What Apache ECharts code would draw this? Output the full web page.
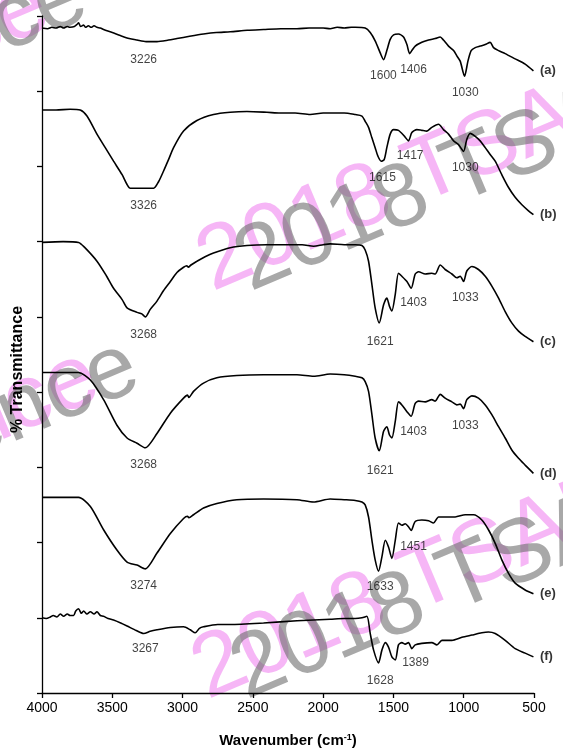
<!DOCTYPE html>
<html>
<head>
<meta charset="utf-8">
<script src="https://cdn.jsdelivr.net/npm/echarts@6/dist/echarts.min.js"></script>
<style>
html,body{margin:0;padding:0;background:#fff;}
#chart{width:563px;height:753px;}
</style>
</head>
<body>
<div id="chart"></div>
<script>
// ---- Data (wavenumber cm^-1, offset % transmittance in axis units) ----
const specA = [[4000,8.84],[3960,8.83],[3930,8.85],[3900,8.84],[3870,8.86],[3846,8.84],[3820,8.86],[3800,8.85],[3770,8.86],[3750,8.89],[3740,8.91],[3725,8.86],[3704,8.88],[3690,8.85],[3670,8.87],[3650,8.85],[3630,8.87],[3609,8.85],[3585,8.84],[3562,8.82],[3500,8.78],[3443,8.74],[3380,8.70],[3324,8.68],[3260,8.66],[3182,8.66],[3100,8.68],[3040,8.70],[2950,8.73],[2851,8.76],[2760,8.78],[2661,8.79],[2540,8.81],[2424,8.82],[2300,8.83],[2186,8.83],[2100,8.84],[2000,8.84],[1950,8.83],[1900,8.85],[1850,8.84],[1800,8.85],[1772,8.85],[1701,8.84],[1665,8.78],[1630,8.67],[1594,8.51],[1570,8.42],[1547,8.54],[1523,8.69],[1499,8.75],[1464,8.76],[1428,8.72],[1404,8.62],[1385,8.50],[1369,8.54],[1345,8.60],[1298,8.65],[1250,8.68],[1203,8.70],[1167,8.72],[1144,8.68],[1108,8.60],[1072,8.54],[1049,8.47],[1025,8.40],[994,8.20],[970,8.40],[947,8.54],[918,8.58],[883,8.60],[847,8.62],[812,8.65],[788,8.58],[752,8.54],[705,8.50],[634,8.43],[563,8.36],[504,8.27]];
const specB = [[4000,7.75],[3900,7.75],[3800,7.76],[3728,7.75],[3680,7.67],[3609,7.43],[3550,7.25],[3491,7.07],[3430,6.89],[3395,6.76],[3372,6.71],[3300,6.71],[3206,6.71],[3170,6.80],[3135,6.94],[3100,7.09],[3064,7.25],[2993,7.47],[2898,7.61],[2780,7.69],[2661,7.72],[2542,7.73],[2400,7.72],[2305,7.71],[2200,7.71],[2092,7.69],[2000,7.71],[1950,7.71],[1850,7.71],[1772,7.69],[1724,7.67],[1701,7.60],[1677,7.52],[1653,7.38],[1630,7.25],[1611,7.14],[1587,7.07],[1566,7.09],[1547,7.25],[1523,7.43],[1499,7.49],[1464,7.48],[1421,7.40],[1393,7.34],[1369,7.45],[1333,7.49],[1298,7.48],[1262,7.47],[1227,7.52],[1179,7.56],[1144,7.49],[1108,7.43],[1072,7.34],[1037,7.29],[1001,7.20],[978,7.36],[954,7.44],[918,7.40],[883,7.34],[847,7.25],[812,7.16],[776,7.07],[729,6.89],[681,6.72],[634,6.59],[586,6.49],[539,6.41],[504,6.36]];
const specC = [[4000,5.99],[3850,6.00],[3740,5.99],[3700,5.93],[3609,5.74],[3540,5.54],[3491,5.38],[3430,5.23],[3395,5.12],[3324,5.06],[3290,5.04],[3265,5.00],[3230,5.10],[3182,5.21],[3135,5.35],[3087,5.47],[3040,5.59],[2993,5.66],[2970,5.68],[2959,5.66],[2940,5.69],[2898,5.74],[2840,5.80],[2780,5.85],[2661,5.92],[2542,5.95],[2400,5.96],[2305,5.96],[2150,5.96],[2068,5.94],[2000,5.96],[1950,5.97],[1850,5.96],[1772,5.96],[1724,5.95],[1701,5.89],[1677,5.74],[1653,5.43],[1630,5.12],[1601,4.92],[1570,5.16],[1547,5.25],[1528,5.14],[1511,5.08],[1487,5.30],[1464,5.58],[1440,5.54],[1404,5.47],[1374,5.38],[1345,5.57],[1321,5.60],[1274,5.57],[1227,5.58],[1203,5.57],[1167,5.69],[1132,5.63],[1084,5.57],[1049,5.52],[1025,5.54],[1001,5.47],[978,5.61],[942,5.67],[895,5.63],[847,5.54],[800,5.41],[752,5.25],[705,5.07],[658,4.92],[610,4.81],[563,4.74],[504,4.67]];
const specD = [[4000,4.26],[3850,4.26],[3740,4.26],[3656,4.16],[3562,3.90],[3467,3.56],[3395,3.39],[3324,3.32],[3265,3.26],[3182,3.45],[3087,3.72],[2993,3.92],[2965,3.96],[2955,3.93],[2922,4.01],[2851,4.12],[2756,4.19],[2614,4.22],[2424,4.23],[2186,4.23],[2068,4.21],[1950,4.24],[1850,4.23],[1772,4.21],[1724,4.19],[1701,4.14],[1677,4.01],[1653,3.70],[1630,3.39],[1601,3.22],[1570,3.48],[1547,3.54],[1528,3.43],[1511,3.39],[1487,3.61],[1464,3.87],[1440,3.83],[1404,3.74],[1374,3.68],[1345,3.85],[1321,3.88],[1274,3.87],[1227,3.90],[1203,3.88],[1167,3.97],[1132,3.92],[1084,3.87],[1049,3.83],[1025,3.84],[1001,3.78],[978,3.90],[942,3.95],[895,3.92],[847,3.83],[800,3.70],[752,3.54],[705,3.39],[658,3.23],[610,3.12],[563,3.03],[504,2.92]];
const specE = [[4000,2.60],[3850,2.60],[3740,2.60],[3656,2.48],[3562,2.17],[3467,1.90],[3395,1.74],[3324,1.70],[3265,1.65],[3182,1.86],[3087,2.12],[2993,2.32],[2965,2.35],[2955,2.33],[2922,2.37],[2851,2.46],[2756,2.52],[2614,2.57],[2424,2.58],[2186,2.57],[2068,2.54],[1950,2.58],[1850,2.57],[1772,2.56],[1724,2.54],[1701,2.50],[1677,2.34],[1653,2.03],[1630,1.77],[1606,1.62],[1582,1.81],[1558,2.03],[1535,1.94],[1511,1.79],[1487,2.03],[1464,2.26],[1440,2.23],[1416,2.25],[1393,2.21],[1374,2.16],[1345,2.28],[1298,2.30],[1250,2.29],[1215,2.26],[1179,2.34],[1108,2.34],[1061,2.34],[989,2.37],[930,2.37],[871,2.30],[824,2.17],[776,1.99],[729,1.77],[681,1.59],[634,1.46],[563,1.37],[504,1.32]];
const specF = [[4000,1.00],[3970,0.99],[3941,1.01],[3920,1.03],[3894,1.01],[3870,1.05],[3846,1.02],[3820,1.05],[3800,1.03],[3775,1.03],[3760,1.09],[3740,1.12],[3720,1.06],[3704,1.09],[3680,1.05],[3656,1.08],[3630,1.05],[3609,1.08],[3585,1.03],[3562,1.02],[3530,0.99],[3491,0.97],[3440,0.93],[3395,0.89],[3330,0.83],[3277,0.79],[3230,0.82],[3182,0.84],[3087,0.87],[2993,0.88],[2945,0.84],[2910,0.80],[2880,0.86],[2851,0.88],[2750,0.91],[2661,0.91],[2424,0.93],[2186,0.96],[1950,0.98],[1850,0.99],[1772,0.99],[1724,1.00],[1689,1.02],[1665,0.79],[1641,0.57],[1606,0.40],[1582,0.57],[1558,0.67],[1535,0.61],[1511,0.48],[1487,0.44],[1464,0.64],[1440,0.67],[1416,0.65],[1393,0.67],[1369,0.59],[1345,0.64],[1298,0.66],[1227,0.67],[1191,0.64],[1155,0.70],[1084,0.70],[1013,0.74],[942,0.77],[871,0.80],[824,0.81],[776,0.79],[705,0.70],[634,0.59],[563,0.53],[504,0.48]];

const seriesNames = ['(a)','(b)','(c)','(d)','(e)','(f)'];

// peak annotations: [wavenumber, y, text]
const peaksA = [[3277,8.42,'3226'],[1571,8.20,'1600'],[1357,8.29,'1406'],[989,7.98,'1030']];
const peaksB = [[3277,6.48,'3326'],[1578,6.85,'1615'],[1381,7.14,'1417'],[989,6.98,'1030']];
const peaksC = [[3277,4.76,'3268'],[1594,4.67,'1621'],[1357,5.19,'1403'],[989,5.25,'1033']];
const peaksD = [[3277,3.03,'3268'],[1594,2.95,'1621'],[1357,3.48,'1403'],[989,3.56,'1033']];
const peaksE = [[3277,1.43,'3274'],[1594,1.41,'1633'],[1357,1.95,'1451']];
const peaksF = [[3265,0.59,'3267'],[1594,0.17,'1628'],[1343,0.40,'1389']];

const xTicks = [4000,3500,3000,2500,2000,1500,1000,500];

// ---- Chart ----
const chart = echarts.init(document.getElementById('chart'), null, {renderer:'canvas'});
const specs = [specA,specB,specC,specD,specE,specF];
const peaks = [peaksA,peaksB,peaksC,peaksD,peaksE,peaksF];
const font = "'Liberation Sans', Arial, sans-serif";

const series = [];
specs.forEach((s,i)=>{
  series.push({
    name: seriesNames[i], type:'line', data:s, showSymbol:false, symbol:'none', z:3,
    smooth:0.25, lineStyle:{color:'#000', width:1.6}, silent:true
  });
  series.push({
    type:'scatter', data:[s[s.length-1]], symbolSize:1, silent:true, z:3,
    itemStyle:{color:'rgba(0,0,0,0)'},
    label:{show:true, position:'right', distance:6, formatter:seriesNames[i], color:'#000',
      fontFamily:font, fontWeight:'bold', fontSize:13}
  });
  series.push({
    type:'scatter', data:peaks[i], symbolSize:1, silent:true, z:3,
    itemStyle:{color:'rgba(0,0,0,0)'},
    label:{show:true, position:'inside', formatter:p=>p.value[2], color:'#111', fontFamily:font, fontSize:12}
  });
});

const wmPink = 'rgba(238,110,238,0.5)';
const wmGray = 'rgba(110,110,110,0.6)';
function wm(text, x, y, color, align){
  return {type:'text', x:x, y:y, rotation:0.40, z:0, silent:true,
    style:{text:text, fill:color, font:'normal 90px '+font, textAlign:align||'left', textVerticalAlign:'bottom'}};
}

chart.setOption({
  animation:false,
  backgroundColor:'#fff',
  grid:{left:42, right:29, top:16, bottom:60, containLabel:false},
  xAxis:{
    type:'value', inverse:true, min:500, max:4000, interval:500,
    axisLine:{lineStyle:{color:'#000', width:1.3}},
    axisTick:{show:true, inside:false, length:5, lineStyle:{color:'#000', width:1.3}},
    axisLabel:{color:'#000', fontFamily:font, fontSize:14, margin:8,
      formatter:v=> xTicks.indexOf(v)>=0 ? String(v) : ''},
    splitLine:{show:false},
    name:'{n|Wavenumber (cm}{s|-1}{n|)}', nameLocation:'middle', nameGap:40,
    nameTextStyle:{rich:{
      n:{fontFamily:font, fontWeight:'bold', fontSize:15, color:'#000'},
      s:{fontFamily:font, fontWeight:'bold', fontSize:9, color:'#000', verticalAlign:'top', padding:[0,0,6,0]}
    }}
  },
  yAxis:{
    type:'value', min:0, max:9, interval:1,
    axisLine:{show:true, lineStyle:{color:'#000', width:1.3}},
    axisTick:{show:true, inside:false, length:5, lineStyle:{color:'#000', width:1.3}},
    axisLabel:{show:false},
    splitLine:{show:false},
    name:'% Transmittance', nameLocation:'middle', nameGap:16,
    nameTextStyle:{fontFamily:font, fontWeight:'bold', fontSize:16, color:'#000', padding:[0,30,0,0]}
  },
  series:series,
  graphic:[
    wm('2018 TSAP', 220, 310, wmPink),
    wm('2018 TSAP', 258, 310, wmGray),
    wm('2018 TSAP', 215, 718, wmPink),
    wm('2018 TSAP', 254, 718, wmGray),
    wm('Science', 112, 415, wmPink, 'right'),
    wm('Science', 152, 405, wmGray, 'right'),
    wm('Science', 62, 44, wmPink, 'right'),
    wm('Science', 100, 34, wmGray, 'right')
  ]
});
</script>
</body>
</html>
